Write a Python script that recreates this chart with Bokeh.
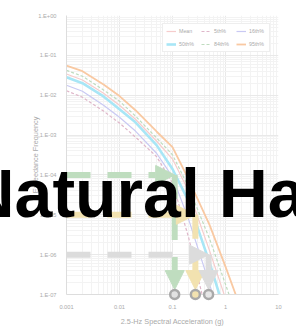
from bokeh.plotting import figure
from bokeh.models import (Range1d, FixedTicker, Legend, LegendItem, Arrow,
                          NormalHead)
from bokeh.core.properties import value
from bokeh.embed import file_html
from bokeh.resources import INLINE

# ---------------- data ----------------
X_VALUES = [0.001, 0.002, 0.005, 0.01, 0.02, 0.05, 0.1, 0.2, 0.5, 1, 2]
P95 = [0.055, 0.040, 0.0186, 0.0095, 0.0042, 0.00123, 5.0e-4, 7.9e-5, 5.6e-6, 5.0e-7, 4.0e-8]
P84 = [0.042, 0.030, 0.0135, 0.0071, 0.0030, 8.5e-4, 3.2e-4, 5.0e-5, 2.5e-6, 1.8e-7, 1.26e-8]
MEAN = [0.034, 0.024, 0.0112, 0.0056, 0.0025, 7.1e-4, 2.5e-4, 4.0e-5, 1.26e-6, 7.9e-8, 5.0e-9]
P50 = [0.0282, 0.020, 0.0093, 0.00447, 0.00209, 5.6e-4, 1.41e-4, 2.24e-5, 6.3e-7, 3.2e-8, 1.6e-9]
P16 = [0.0178, 0.0126, 0.0056, 0.0028, 0.00126, 3.5e-4, 8.9e-5, 7.9e-6, 1.8e-7, 1.0e-8, 1.0e-9]
P05 = [0.0129, 0.0089, 0.0040, 0.0020, 8.9e-4, 2.9e-4, 6.3e-5, 2.8e-6, 1.6e-8, 1.0e-9, 1.0e-10]

SERIES_NAMES = ["Mean", "5th%", "16th%", "50th%", "84th%", "95th%"]

X_TICKS = [0.001, 0.01, 0.1, 1, 10]
X_TICK_LABELS = ["0.001", "0.01", "0.1", "1", "10"]
Y_TICKS = [1e-7, 1e-6, 1e-5, 1e-4, 1e-3, 1e-2, 1e-1, 1.0]
Y_TICK_LABELS = ["1.E-07", "1.E-06", "1.E-05", "1.E-04", "1.E-03", "1.E-02", "1.E-01", "1.E+00"]

HAZARD_LEVELS = [1e-4, 1e-5, 1e-6]
HAZARD_SA = [0.11, 0.27, 0.48]

X_TITLE = "2.5-Hz Spectral Acceleration (g)"
Y_TITLE = "Exceedance Frequency"
OVERLAY_TEXT = "Natural Hazards"

# ---------------- style ----------------
W, H = 296, 328
B_LEFT, B_RIGHT, B_TOP, B_BOTTOM = 66, 18, 15, 30
FONT = "Liberation Sans"
TICK_COLOR = "#aaaaaa"

X_MIN, X_MAX = X_TICKS[0], X_TICKS[-1]
Y_MIN, Y_MAX = Y_TICKS[0], Y_TICKS[-1]

p = figure(width=W, height=H, x_axis_type="log", y_axis_type="log",
           x_range=Range1d(X_MIN, X_MAX), y_range=Range1d(Y_MIN, Y_MAX),
           output_backend="svg", toolbar_location=None,
           min_border_left=B_LEFT, min_border_right=B_RIGHT,
           min_border_top=B_TOP, min_border_bottom=B_BOTTOM,
           margin=(0, 0, 0, 0),
           outline_line_color=None, background_fill_color="white",
           border_fill_color="white")

def minor(ticks):
    out = []
    for t in ticks[:-1]:
        out += [t * m for m in range(2, 10)]
    return out

p.xaxis.ticker = FixedTicker(ticks=X_TICKS, minor_ticks=minor(X_TICKS))
p.yaxis.ticker = FixedTicker(ticks=Y_TICKS, minor_ticks=minor(Y_TICKS))
p.xaxis.major_label_overrides = dict(zip(X_TICKS, X_TICK_LABELS))
p.yaxis.major_label_overrides = dict(zip(Y_TICKS, Y_TICK_LABELS))

for ax in (p.xaxis, p.yaxis):
    ax.axis_line_color = "#dddddd"
    ax.major_tick_line_color = None
    ax.minor_tick_line_color = None
    ax.major_tick_out = 0
    ax.major_tick_in = 0
    ax.major_label_text_font = FONT
    ax.major_label_text_font_size = "5.7px"
    ax.major_label_text_color = TICK_COLOR
    ax.axis_label_text_font = FONT
    ax.axis_label_text_font_size = "7.3px"
    ax.axis_label_text_font_style = "normal"
    ax.axis_label_text_color = "#aaaaaa"

p.xaxis.axis_label = X_TITLE
p.yaxis.axis_label = Y_TITLE
p.xaxis.major_label_standoff = 6
p.yaxis.major_label_standoff = 6
p.xaxis.axis_label_standoff = 5
p.yaxis.axis_label_standoff = -5

for g in (p.xgrid, p.ygrid):
    g.grid_line_color = "#e9e9e9"
    g.minor_grid_line_color = "#f3f3f3"

styles = {
    "Mean": dict(color="#f6cccc", width=1.2, dash="solid"),
    "5th%": dict(color="#dfb6c9", width=1.2, dash="3 2"),
    "16th%": dict(color="#c9c9f3", width=1.2, dash="solid"),
    "50th%": dict(color="#a8e6f6", width=2.6, dash="solid"),
    "84th%": dict(color="#bfdcbf", width=1.2, dash="3 2"),
    "95th%": dict(color="#f9c9a2", width=1.8, dash="solid"),
}
series = {"Mean": MEAN, "5th%": P05, "16th%": P16, "50th%": P50, "84th%": P84, "95th%": P95}

draw_order = ["5th%", "16th%", "50th%", "Mean", "84th%", "95th%"]
renderers = {}
for name in draw_order:
    s = styles[name]
    renderers[name] = p.line(X_VALUES, series[name], line_color=s["color"],
                             line_width=s["width"], line_dash=s["dash"])

legend = Legend(items=[LegendItem(label=n, renderers=[renderers[n]]) for n in SERIES_NAMES],
                location="top_right", orientation="horizontal", ncols=3,
                margin=8, padding=3, spacing=5,
                glyph_width=10, glyph_height=8, label_height=8, label_width=17,
                label_standoff=3, label_text_font=FONT, label_text_font_size="5.3px",
                label_text_color="#aaaaaa", border_line_color="#dddddd",
                background_fill_color="white", background_fill_alpha=1.0)
p.add_layout(legend)

# hazard arrows
ARROW_COLORS = ["#bfddbf", "#f2e2b0", "#dcdcdc"]
CIRCLE_FILLS = ["#e2e2e2", "#f2e2b0", "#e6e6e6"]
px_per_dec = (H - B_TOP - B_BOTTOM) / 7.0
tip_y = Y_MIN * 10 ** (5.0 / px_per_dec)
for lvl, xv, c in zip(HAZARD_LEVELS, HAZARD_SA, ARROW_COLORS):
    p.add_layout(Arrow(end=NormalHead(size=19, fill_color=c, line_color=c, line_width=1),
                       x_start=X_MIN, y_start=lvl, x_end=xv, y_end=lvl,
                       line_color=c, line_width=6, line_dash="24 17"))
    p.add_layout(Arrow(end=NormalHead(size=19, fill_color=c, line_color=c, line_width=1),
                       x_start=xv, y_start=lvl, x_end=xv, y_end=tip_y,
                       line_color=c, line_width=6, line_dash="24 17"))

p.scatter(HAZARD_SA, [Y_MIN] * len(HAZARD_SA), size=9, line_width=2.5,
          line_color="#a9a9a9", fill_color=CIRCLE_FILLS, level="overlay")

# big overlay text, anchored at the frame's bottom-left corner with pixel offsets
p.text(x=[X_MIN], y=[Y_MIN], text=[OVERLAY_TEXT], x_offset=-35 - B_LEFT,
       y_offset=-102, text_font=value(FONT),
       text_font_size="68px", text_font_style="bold", text_color="black",
       text_baseline="alphabetic", text_align="left", level="overlay")

open("out.html", "w").write(file_html(p, INLINE))
